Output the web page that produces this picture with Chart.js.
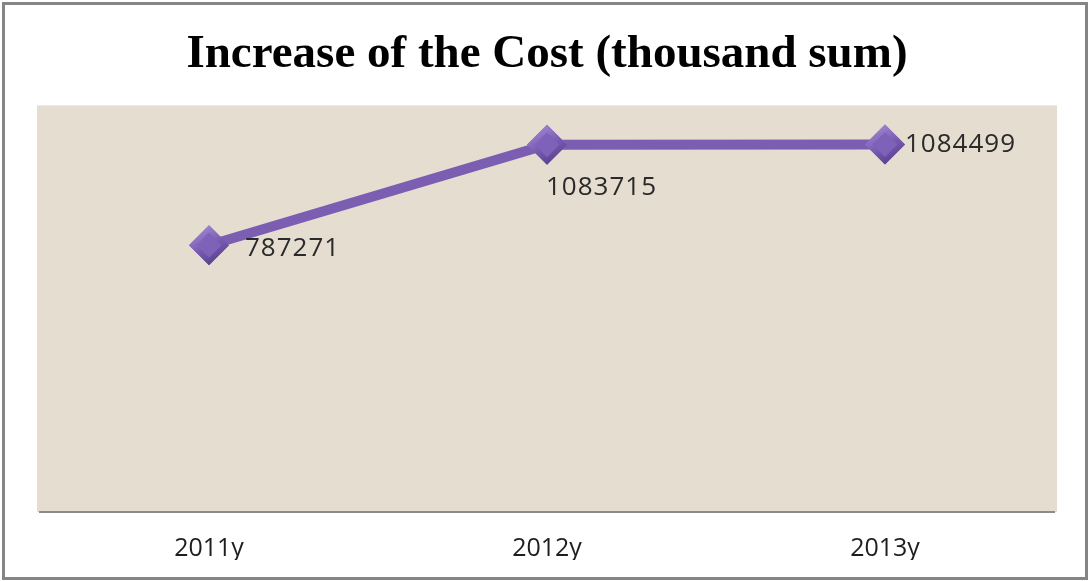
<!DOCTYPE html>
<html>
<head>
<meta charset="utf-8">
<script src="https://cdn.jsdelivr.net/npm/chart.js@4/dist/chart.umd.min.js"></script>
<style>
  html, body { margin: 0; padding: 0; background: #fff; }
  #wrap { position: relative; width: 1089px; height: 581px; }
</style>
</head>
<body>
<div id="wrap"><canvas id="costChart"></canvas></div>
<script>
// data
const years = ["2011y", "2012y", "2013y"];
const costValues = [787271, 1083715, 1084499];
const yRange = [0, 1200000]; // hidden value axis

// label offsets from each point (px), left aligned text
const labelOffsets = [[36, 3], [-1, 43], [20, 0]];

// beige plot area + outer frame
const frameBg = {
  id: "frameBg",
  beforeDraw(chart) {
    const { ctx, chartArea: a } = chart;
    ctx.save();
    ctx.fillStyle = "#ffffff";
    ctx.fillRect(0, 0, chart.width, chart.height);
    ctx.fillStyle = "#e5ddd0";
    ctx.fillRect(a.left - 3, a.top, a.right - a.left + 6, a.bottom - a.top);
    ctx.restore();
  },
  afterDraw(chart) {
    const ctx = chart.ctx;
    ctx.save();
    ctx.strokeStyle = "#858585";
    ctx.lineWidth = 3;
    ctx.strokeRect(3.5, 3.5, chart.width - 6, chart.height - 6);
    ctx.restore();
  },
};

// bevelled diamond markers + value labels
const markerLabels = {
  id: "markerLabels",
  afterDatasetsDraw(chart) {
    const ctx = chart.ctx;
    const meta = chart.getDatasetMeta(0);
    ctx.save();
    meta.data.forEach((pt) => {
      const r = pt.options.radius;
      const diamond = (s) => {
        ctx.beginPath();
        ctx.moveTo(pt.x - s, pt.y);
        ctx.lineTo(pt.x, pt.y - s);
        ctx.lineTo(pt.x + s, pt.y);
        ctx.lineTo(pt.x, pt.y + s);
        ctx.closePath();
      };
      const g = ctx.createLinearGradient(pt.x - r / 2, pt.y - r, pt.x + r / 2, pt.y + r);
      g.addColorStop(0, "#a48bd6");
      g.addColorStop(0.5, "#7a5db3");
      g.addColorStop(1, "#553a88");
      diamond(r);
      ctx.fillStyle = g;
      ctx.fill();
      diamond(r * 0.62);
      ctx.fillStyle = "#7e61b8";
      ctx.fill();
    });
    ctx.font = "26px 'Open Sans', sans-serif";
    ctx.letterSpacing = "1px";
    ctx.fillStyle = "#2a2a2a";
    ctx.textAlign = "left";
    ctx.textBaseline = "middle";
    meta.data.forEach((pt, i) => {
      const off = labelOffsets[i];
      ctx.fillText(String(costValues[i]), pt.x + off[0], pt.y + off[1]);
    });
    ctx.restore();
  },
};

const ctx = document.getElementById("costChart").getContext("2d");
new Chart(ctx, {
  type: "line",
  data: {
    labels: years,
    datasets: [{
      label: "Cost",
      data: costValues,
      borderColor: "#7b5eb2",
      borderWidth: 10,
      tension: 0,
      pointStyle: "rectRot",
      pointRadius: 20,
      pointBackgroundColor: "#7e61b8",
      pointBorderWidth: 0,
    }],
  },
  options: {
    responsive: true,
    maintainAspectRatio: false,
    animation: false,
    layout: { padding: { left: 40, right: 35, top: 0, bottom: 21 } },
    scales: {
      x: {
        offset: true,
        grid: { display: true, drawOnChartArea: false, drawTicks: false },
        border: { display: true, color: "#8a8a8a", width: 2 },
        ticks: { padding: 22, color: "#1e1e1e", font: { family: "'Open Sans', sans-serif", size: 25 } },
        afterFit(scale) { scale.height = 48; },
      },
      y: { display: false, min: yRange[0], max: yRange[1] },
    },
    plugins: {
      legend: { display: false },
      tooltip: { enabled: false },
      title: {
        display: true,
        text: "Increase of the Cost (thousand sum)",
        color: "#000",
        font: { family: "'Liberation Serif', 'Times New Roman', serif", size: 47, weight: "bold" },
        padding: { top: 27, bottom: 22 },
      },
    },
  },
  plugins: [frameBg, markerLabels],
});
</script>
</body>
</html>
